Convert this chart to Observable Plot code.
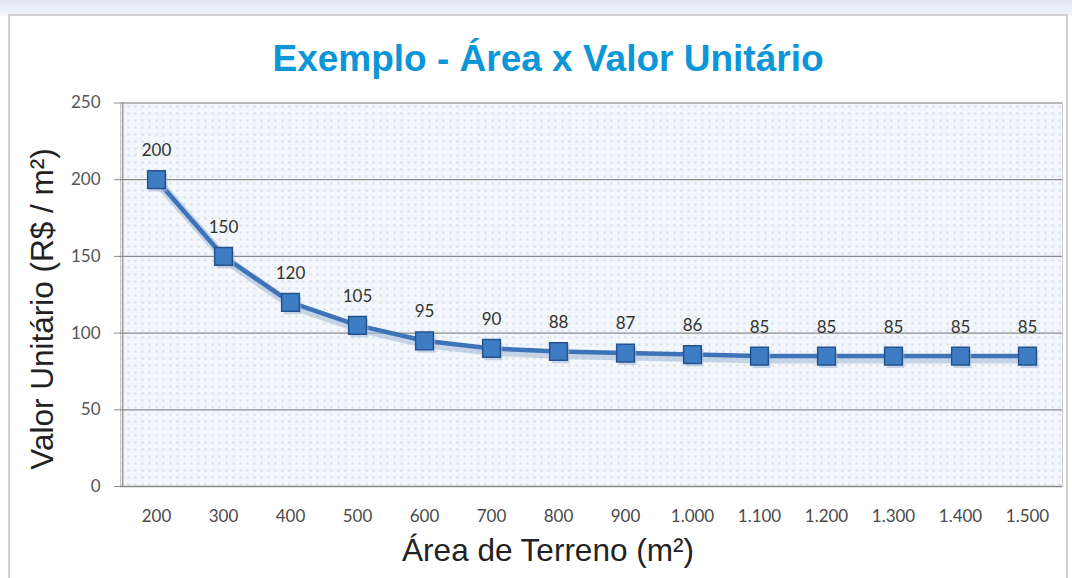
<!DOCTYPE html>
<html><head><meta charset="utf-8">
<script src="https://cdn.jsdelivr.net/npm/d3@7"></script>
<script src="https://cdn.jsdelivr.net/npm/@observablehq/plot@0.6"></script>
<style>
html,body{margin:0;padding:0;width:1072px;height:578px;overflow:hidden;background:#fff;}
#bgtop{position:absolute;left:0;top:0;width:1072px;height:16px;background:linear-gradient(#dfe7f3,#f3f6fb);}
#panel{position:absolute;left:8px;top:14px;width:1060px;height:570px;border:2px solid #cfcfcf;background:#fff;box-sizing:border-box;}
#title{position:absolute;left:0;width:1096px;top:38px;text-align:center;font-family:"Liberation Sans",Arial,sans-serif;font-weight:bold;font-size:37px;color:#0b96d8;}
#ylab{position:absolute;left:42px;top:309px;transform:translate(-50%,-50%) rotate(-90deg);white-space:nowrap;font-family:"Liberation Sans",Arial,sans-serif;font-size:31.5px;color:#222;}
#xlab{position:absolute;left:0;width:1096px;top:532px;text-align:center;font-family:"Liberation Sans",Arial,sans-serif;font-size:31.5px;color:#222;}
#chart{position:absolute;left:0;top:90px;}
</style></head>
<body>
<div id="bgtop"></div>
<div id="panel"></div>
<div id="title">Exemplo - Área x Valor Unitário</div>
<div id="ylab">Valor Unitário (R$ / m²)</div>
<div id="xlab">Área de Terreno (m²)</div>
<div id="chart"></div>
<script>
const areas = [200,300,400,500,600,700,800,900,1000,1100,1200,1300,1400,1500];
const areaLabels = ["200","300","400","500","600","700","800","900","1.000","1.100","1.200","1.300","1.400","1.500"];
const valores = [200,150,120,105,95,90,88,87,86,85,85,85,85,85];
const yTicks = [0,50,100,150,200,250];

const data = areas.map((a,i)=>({area:areaLabels[i], valor:valores[i]}));

const plot = Plot.plot({
  width: 1072,
  height: 488,
  marginLeft: 120,
  marginRight: 10,
  marginTop: 12.5,
  marginBottom: 92,
  style: {fontFamily: "Lato, 'Open Sans', sans-serif", fontSize: "17px", color: "#555", background: "transparent", overflow: "visible"},
  x: {type: "point", domain: areaLabels, padding: 0.5, label: null},
  y: {domain: [0,250], ticks: yTicks, label: null},
  marks: [
    Plot.frame({fill: "url(#dots)", stroke: "#c9c9c9"}),
    Plot.gridY(yTicks.filter(d=>d>0), {stroke: "#8a8a8a", strokeOpacity: 1, strokeWidth: 1.2}),
    Plot.ruleY([0], {stroke: "#8a8a8a", strokeWidth: 1.5}),
    Plot.ruleX([0], {x: () => areaLabels[0], dx: -33.7, stroke: "#8a8a8a", strokeWidth: 1.2}),
    Plot.axisY({ticks: yTicks, tickSize: 6, tickPadding: 14, stroke: "#8a8a8a", fill: "#555", label: null, fontSize: 17}),
    Plot.axisX({tickSize: 0, tickPadding: 23, fill: "#4a4a4a", label: null, fontSize: 17}),
    Plot.line(data, {x: "area", y: "valor", stroke: "#9db6d6", strokeWidth: 9, strokeOpacity: 0.55, dx: 2, dy: 3}),
    Plot.line(data, {x: "area", y: "valor", stroke: "#3d73b9", strokeWidth: 4.5}),
    Plot.dot(data, {x: "area", y: "valor", symbol: "square", r: 10, fill: "#a9bcd6", fillOpacity: 0.6, dx: 2, dy: 3}),
    Plot.dot(data, {x: "area", y: "valor", symbol: "square", r: 10, fill: "#3e7cc4", stroke: "#24538f", strokeWidth: 1.5}),
    Plot.text(data, {x: "area", y: "valor", text: d => String(d.valor), dy: -29, fontSize: 17, fill: "#333"})
  ]
});

const svgns = "http://www.w3.org/2000/svg";
const defs = document.createElementNS(svgns, "defs");
defs.innerHTML = `<pattern id="dots" width="7" height="7" patternUnits="userSpaceOnUse">
<rect width="7" height="7" fill="#f3f6fb"/><circle cx="2" cy="2" r="0.9" fill="#c6d0de"/></pattern>`;
plot.insertBefore(defs, plot.firstChild);
document.getElementById("chart").appendChild(plot);
</script>
</body></html>
